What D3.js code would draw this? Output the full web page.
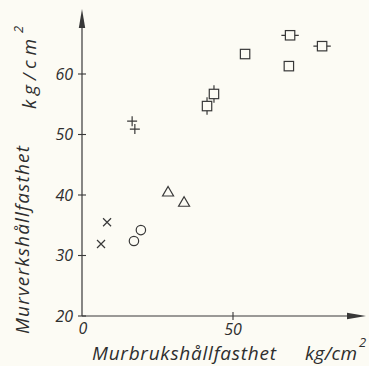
<!DOCTYPE html>
<html>
<head>
<meta charset="utf-8">
<script src="https://cdn.jsdelivr.net/npm/d3@7"></script>
<style>
  body { margin: 0; background: #fcfbf4; }
  svg text { font-family: "Open Sans", "DejaVu Sans", sans-serif; font-style: italic; font-weight: 400; fill: #2e2e2e; }
</style>
</head>
<body>
<div id="chart"></div>
<script>
// data (mortar strength vs. masonry strength, kg/cm2)
const crossPts = [[6.3, 31.9], [8.3, 35.5]];
const circlePts = [[17.2, 32.4], [19.5, 34.2]];
const trianglePts = [[28.5, 40.5], [33.8, 38.8]];
const plusPts = [[16.6, 52.2], [17.5, 50.9]];
// third value: whisker direction ("h", "v" or "")
const squarePts = [
  [54.0, 63.3, ""], [68.9, 66.4, "h"], [79.5, 64.6, "h"],
  [68.5, 61.3, ""], [43.7, 56.7, "v"], [41.4, 54.7, "v"]
];
const yTicks = [20, 30, 40, 50, 60];
const xTicks = [50];

const width = 369, height = 366;
const ink = "#383838";

const svg = d3.select("#chart").append("svg")
  .attr("width", width).attr("height", height);

const x = d3.scaleLinear().domain([0, 50]).range([82, 233]);
const y = d3.scaleLinear().domain([20, 60]).range([316, 74]);

// axes
svg.append("line").attr("x1", x(0)).attr("x2", 358).attr("y1", y(20)).attr("y2", y(20))
  .attr("stroke", ink).attr("stroke-width", 1.2);
svg.append("line").attr("x1", x(0)).attr("x2", x(0)).attr("y1", y(20)).attr("y2", 20)
  .attr("stroke", ink).attr("stroke-width", 1.2);
// arrow heads
svg.append("path").attr("d", `M${x(0)},9 L${x(0) - 3.2},28 L${x(0) + 3.2},28 Z`).attr("fill", ink);
svg.append("path").attr("d", `M366,${y(20)} L347,${y(20) - 3.2} L347,${y(20) + 3.2} Z`).attr("fill", ink);

// y ticks
yTicks.forEach(t => {
  svg.append("line").attr("x1", x(0) - 4).attr("x2", x(0) + 4).attr("y1", y(t)).attr("y2", y(t))
    .attr("stroke", ink).attr("stroke-width", 1.1);
  svg.append("text").attr("x", 73).attr("y", y(t) + 5.5).attr("text-anchor", "end")
    .attr("font-size", 16).text(t);
});
xTicks.forEach(t => {
  svg.append("line").attr("x1", x(t)).attr("x2", x(t)).attr("y1", y(20) - 4).attr("y2", y(20) + 4)
    .attr("stroke", ink).attr("stroke-width", 1.1);
  svg.append("text").attr("x", x(t)).attr("y", 335).attr("text-anchor", "middle")
    .attr("font-size", 16).text(t);
});
svg.append("text").attr("x", x(0) + 1).attr("y", 334).attr("text-anchor", "middle")
  .attr("font-size", 16).text("0");

// axis titles
svg.append("text").attr("x", 92).attr("y", 360).attr("font-size", 19)
  .attr("textLength", 184).attr("lengthAdjust", "spacing").text("Murbrukshållfasthet");
svg.append("text").attr("x", 305).attr("y", 360).attr("font-size", 19)
  .attr("textLength", 52).attr("lengthAdjust", "spacing").text("kg/cm");
svg.append("text").attr("x", 359).attr("y", 347).attr("font-size", 13).text("2");

svg.append("g").attr("transform", "translate(29,334) rotate(-90)")
  .append("text").attr("font-size", 19)
  .attr("textLength", 188).attr("lengthAdjust", "spacing").text("Murverkshållfasthet");
svg.append("g").attr("transform", "translate(36,109) rotate(-90)")
  .append("text").attr("font-size", 19)
  .attr("textLength", 70).attr("lengthAdjust", "spacing").text("kg/cm");
svg.append("g").attr("transform", "translate(23,33) rotate(-90)")
  .append("text").attr("font-size", 13).text("2");

const mk = svg.append("g").attr("fill", "none").attr("stroke", ink).attr("stroke-width", 1.2);

// crosses
crossPts.forEach(d => {
  const cx = x(d[0]), cy = y(d[1]), s = 4;
  mk.append("path").attr("d", `M${cx - s},${cy - s}L${cx + s},${cy + s}M${cx - s},${cy + s}L${cx + s},${cy - s}`);
});
// circles
circlePts.forEach(d => {
  mk.append("circle").attr("cx", x(d[0])).attr("cy", y(d[1])).attr("r", 4.7);
});
// triangles
trianglePts.forEach(d => {
  const cx = x(d[0]), cy = y(d[1]);
  mk.append("path").attr("d", `M${cx},${cy - 5.5}L${cx + 5.5},${cy + 4}L${cx - 5.5},${cy + 4}Z`);
});
// plus
plusPts.forEach(d => {
  const cx = x(d[0]), cy = y(d[1]), s = 5;
  mk.append("path").attr("d", `M${cx - s},${cy}L${cx + s},${cy}M${cx},${cy - s}L${cx},${cy + s}`);
});
// squares with whiskers
squarePts.forEach(d => {
  const cx = x(d[0]), cy = y(d[1]), s = 4.7;
  mk.append("rect").attr("x", cx - s).attr("y", cy - s).attr("width", 2 * s).attr("height", 2 * s);
  if (d[2] === "h") {
    mk.append("path").attr("d", `M${cx - s - 4},${cy}L${cx - s},${cy}M${cx + s},${cy}L${cx + s + 4},${cy}`);
  } else if (d[2] === "v") {
    mk.append("path").attr("d", `M${cx},${cy - s - 4}L${cx},${cy - s}M${cx},${cy + s}L${cx},${cy + s + 4}`);
  }
});
</script>
</body>
</html>
